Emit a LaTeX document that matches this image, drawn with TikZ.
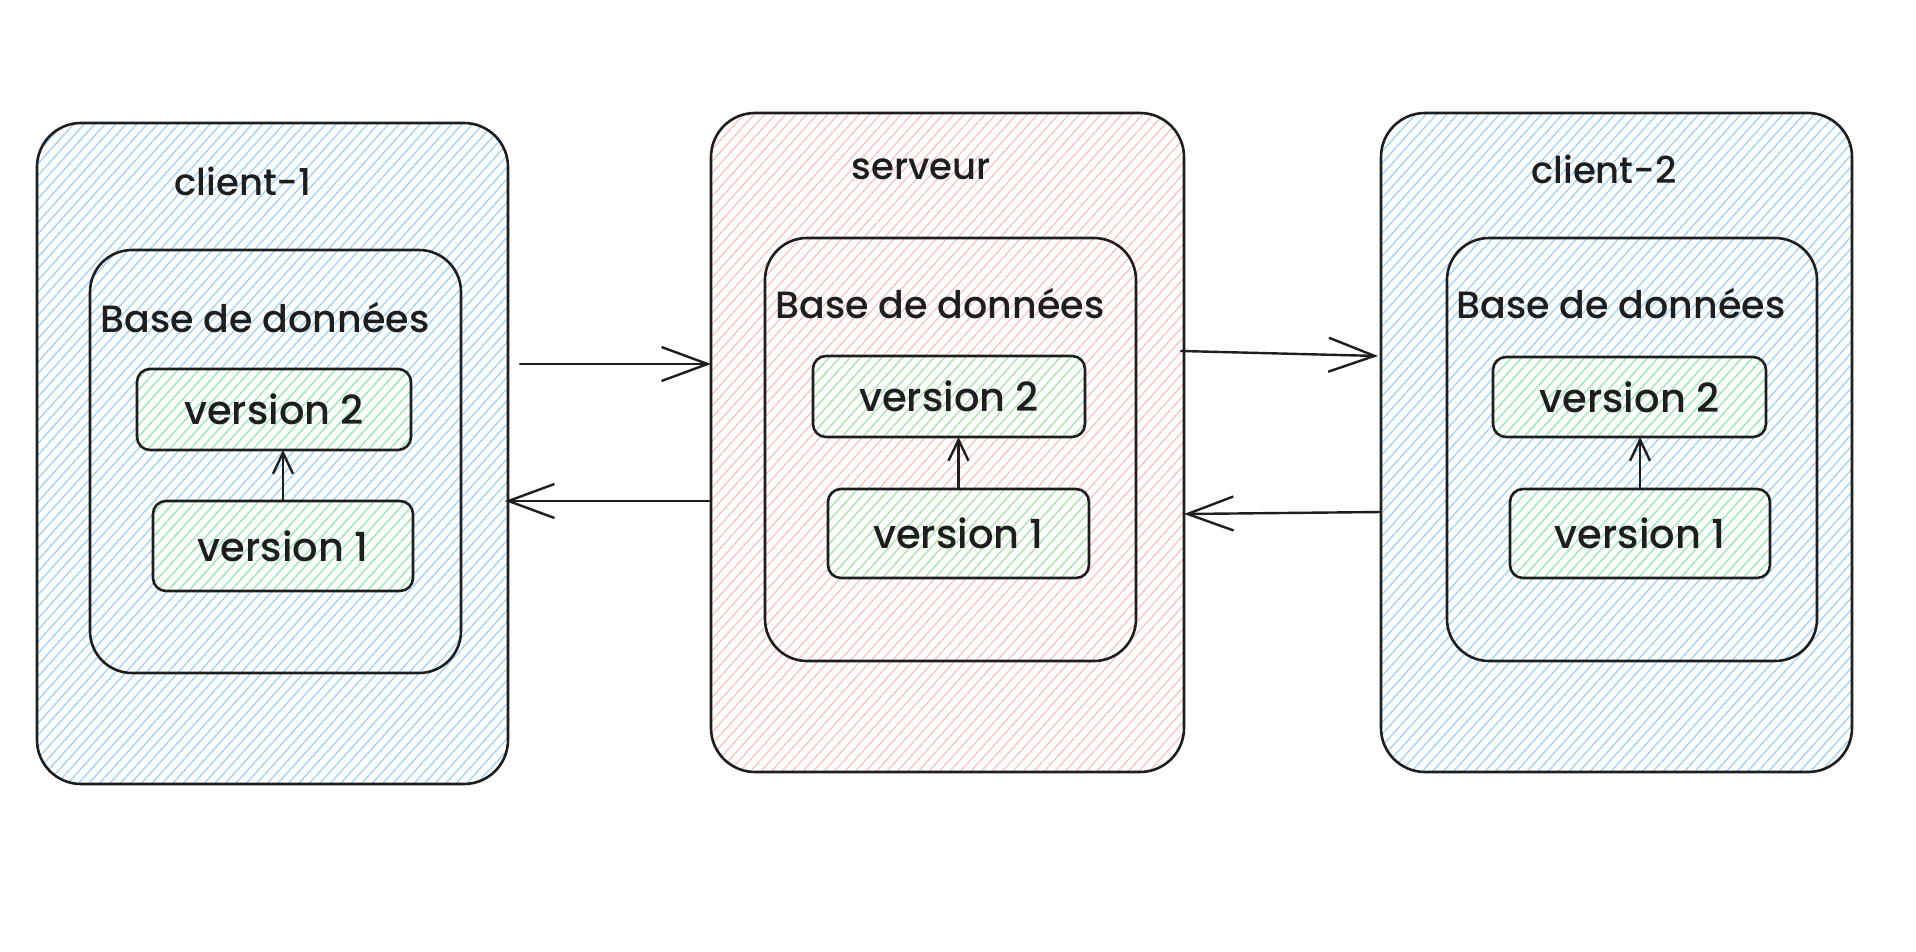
\documentclass[tikz,border=0pt]{standalone}
\usepackage{fontspec}
\setmainfont{Poppins}[BoldFont={Poppins Medium}]
\usetikzlibrary{arrows.meta,patterns.meta,calc}

\definecolor{ink}{HTML}{1E1E1E}
\definecolor{hatchblue}{HTML}{9ED2FB}
\definecolor{hatchred}{HTML}{FCC2C2}
\definecolor{hatchgreen}{HTML}{A8EDB2}

\tikzset{
  hatch/.style={pattern={Lines[angle=48,distance=7.8pt,line width=1.3pt]},
                pattern color=#1},
  box/.style={draw=ink, line width=2.6pt, rectangle, inner sep=0pt, outer sep=0pt,
              anchor=north west},
  machine/.style={box, rounded corners=44pt},
  dbbox/.style={box, rounded corners=42pt},
  verbox/.style={box, rounded corners=13pt, hatch=hatchgreen},
  lbl/.style={text=ink, inner sep=0pt, font=\bfseries\fontsize{40}{48}\selectfont},
  dblbl/.style={lbl, font=\bfseries\fontsize{38}{46}\selectfont},
  ttl/.style={lbl, font=\bfseries\fontsize{37}{44}\selectfont},
  link/.style={draw=ink, line width=2.4pt, line cap=round,
               -{Straight Barb[length=46pt,width=34pt,line width=2.4pt]}},
  upgrade/.style={draw=ink, line width=2.4pt, line cap=round,
                  -{Straight Barb[length=21pt,width=20pt,line width=2.4pt]}},
}

\begin{document}
\begin{tikzpicture}[x=1pt,y=-1pt]
\useasboundingbox[fill=white] (0,0) rectangle (1916,952);

% machines
\node[machine, hatch=hatchblue, minimum width=471pt, minimum height=661pt] (c1)  at (37,123) {};
\node[machine, hatch=hatchred,  minimum width=473pt, minimum height=659pt] (srv) at (711,113) {};
\node[machine, hatch=hatchblue, minimum width=471pt, minimum height=659pt] (c2)  at (1381,113) {};

\node[ttl] (c1title)  at (243,181) {client-1};
\node[ttl] (srvtitle) at (921,169) {serveur};
\node[ttl] (c2title)  at (1604,169) {client-2};

% databases
\node[dbbox, minimum width=371pt, minimum height=423pt] (c1db)  at (90,250) {};
\node[dbbox, minimum width=371pt, minimum height=423pt] (srvdb) at (765,238) {};
\node[dbbox, minimum width=370pt, minimum height=423pt] (c2db)  at (1447,238) {};

\node[dblbl] (c1dbtitle)  at (265,318) {Base de données};
\node[dblbl] (srvdbtitle) at (940,304) {Base de données};
\node[dblbl] (c2dbtitle)  at (1621,304) {Base de données};

% versions
\node[verbox, minimum width=274pt, minimum height=81pt] (c1v2)  at (137,369) {};
\node[verbox, minimum width=260pt, minimum height=90pt] (c1v1)  at (153,501) {};
\node[verbox, minimum width=272pt, minimum height=81pt] (srvv2) at (813,356) {};
\node[verbox, minimum width=261pt, minimum height=89pt] (srvv1) at (828,489) {};
\node[verbox, minimum width=273pt, minimum height=80pt] (c2v2)  at (1493,357) {};
\node[verbox, minimum width=260pt, minimum height=89pt] (c2v1)  at (1510,489) {};

\node[lbl] at (c1v2)  {version 2};
\node[lbl] at (c1v1)  {version 1};
\node[lbl] at (srvv2) {version 2};
\node[lbl] at (srvv1) {version 1};
\node[lbl] at (c2v2)  {version 2};
\node[lbl] at (c2v1)  {version 1};

% upgrades inside each database
\draw[upgrade] (c1v1.north)  -- (c1v1.north  |- c1v2.south);
\draw[upgrade] (srvv1.north) -- (srvv1.north |- srvv2.south);
\draw[upgrade] (c2v1.north)  -- (c2v1.north  |- c2v2.south);

% synchronisation between machines
\draw[link] ($(c1.east |- 0,364)+(12,0)$) -- (srv.west |- 0,364);
\draw[link] ($(srv.west |- 0,501)+(-2,0)$) -- ($(c1.east |- 0,501)+(-3,0)$);
\draw[link] ($(srv.east |- 0,351)+(-3,0)$) -- ($(c2.west |- 0,356)+(-3,0)$);
\draw[link] (c2.west |- 0,512) -- (srv.east |- 0,514);
\end{tikzpicture}
\end{document}
